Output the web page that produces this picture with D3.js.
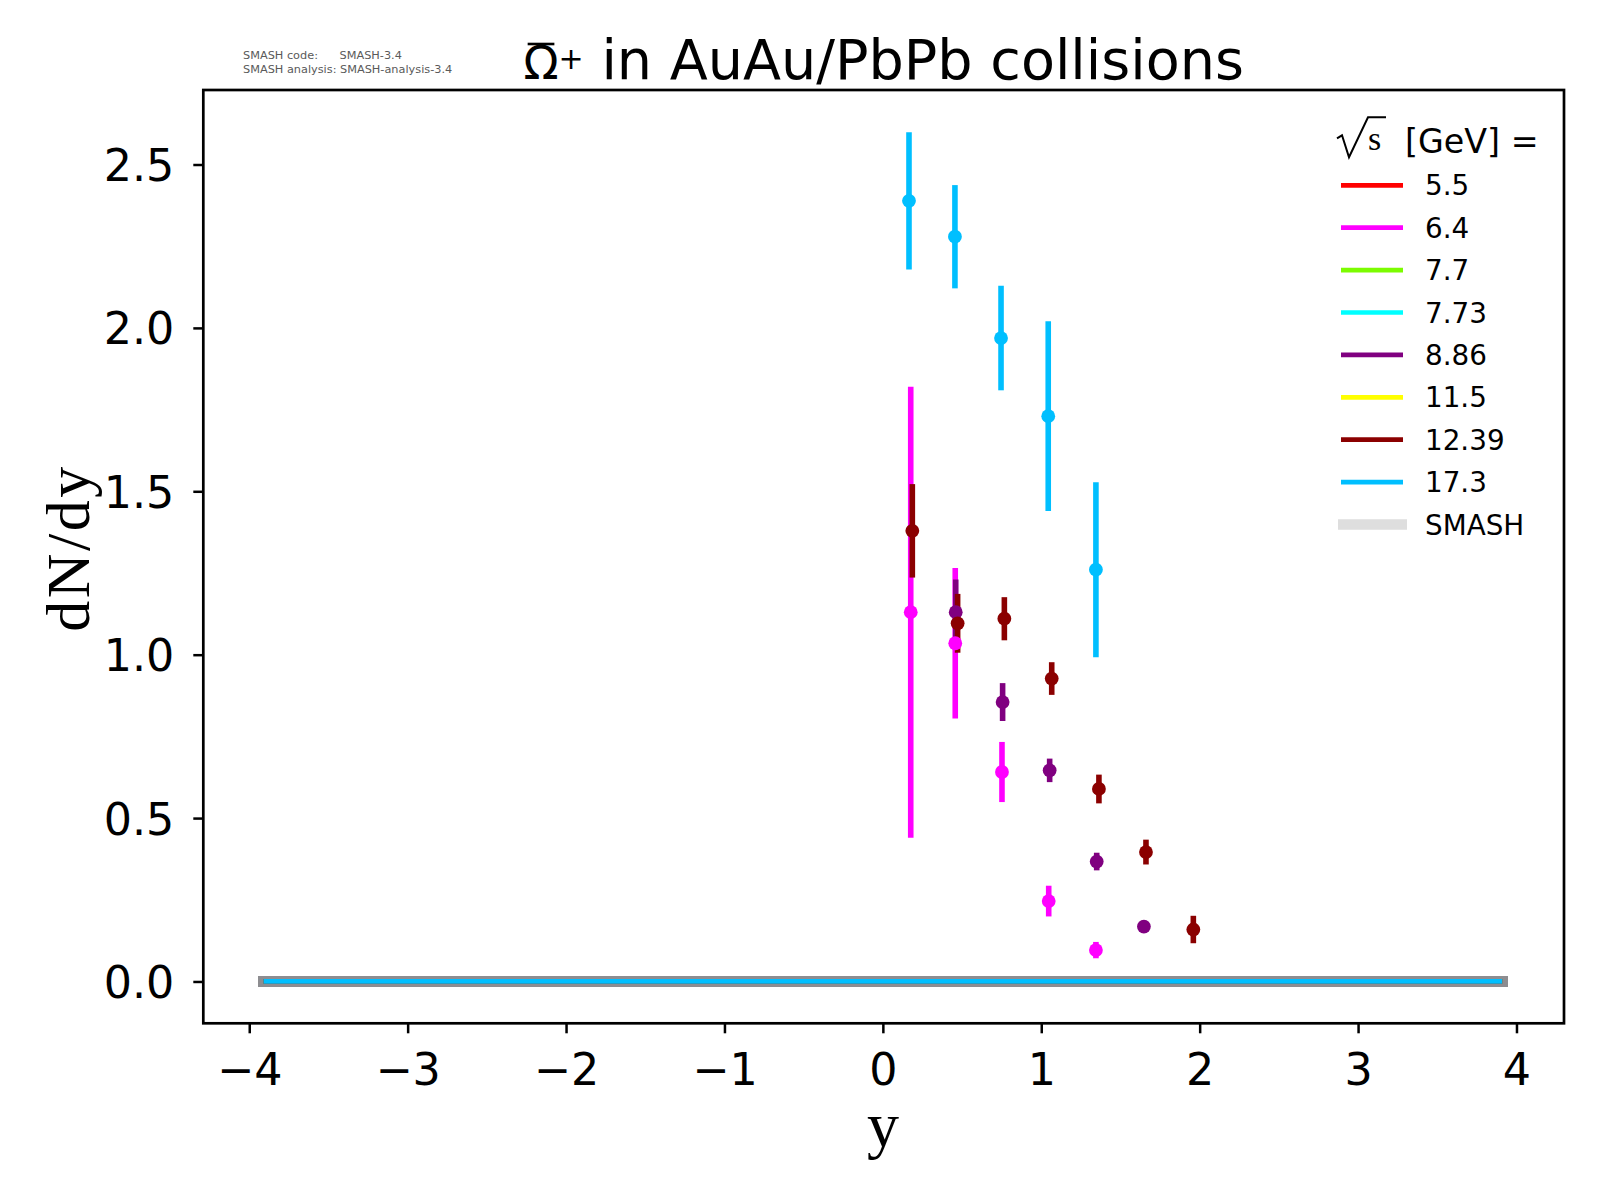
<!DOCTYPE html>
<html><head><meta charset="utf-8">
<script src="https://cdn.jsdelivr.net/npm/d3@7"></script>
<style>body{margin:0;background:#fff}svg{display:block}</style>
</head><body><svg id="c" width="1600" height="1200"></svg>
<script>
// ---------- data ----------
const legendLabels = ["5.5","6.4","7.7","7.73","8.86","11.5","12.39","17.3"];
const legendColors = ["#ff0000","#ff00ff","#7cfc00","#00ffff","#800080","#ffff00","#8b0000","#00bfff"];

// measured points (rapidity, dN/dy, error)
const rap64   = [0.176,0.457,0.752,1.047,1.345];
const val64   = [1.130,1.035,0.641,0.246,0.096];
const err64   = [0.690,0.230,0.092,0.047,0.025];
const rap886  = [0.460,0.756,1.053,1.350,1.648];
const val886  = [1.130,0.855,0.646,0.367,0.168];
const err886  = [0.100,0.058,0.036,0.027,0.012];
const rap1239 = [0.186,0.472,0.767,1.066,1.364,1.661,1.960];
const val1239 = [1.379,1.096,1.110,0.927,0.589,0.396,0.159];
const err1239 = [0.143,0.090,0.066,0.050,0.044,0.038,0.042];
const rap173  = [0.165,0.455,0.746,1.044,1.345];
const val173  = [2.389,2.279,1.969,1.730,1.260];
const err173  = [0.210,0.158,0.160,0.290,0.268];

// SMASH curves (all ~0)
const smashRap = [-3.91,-3,-2,-1,0,1,2,3,3.91];
const smashVal = [0,0,0,0,0,0,0,0,0];

const xTicks = [-4,-3,-2,-1,0,1,2,3,4];
const yTicks = [0.0,0.5,1.0,1.5,2.0,2.5];

const seriesData = [
  {label:"6.4",   rap:rap64,   val:val64,   err:err64},
  {label:"8.86",  rap:rap886,  val:val886,  err:err886},
  {label:"12.39", rap:rap1239, val:val1239, err:err1239},
  {label:"17.3",  rap:rap173,  val:val173,  err:err173}
];
const colorOf = l => legendColors[legendLabels.indexOf(l)];

// ---------- layout ----------
const L = 203.3, R = 1564, T = 90, B = 1023.3;
const x = d3.scaleLinear().domain([-4.29, 4.30]).range([L, R]);
const y = d3.scaleLinear().domain([-0.128, 2.728]).range([B, T]);

const svg = d3.select("#c");
svg.append("rect").attr("width",1600).attr("height",1200).attr("fill","#fff");

const sans = "'DejaVu Sans', sans-serif";
const serif = "'Liberation Serif', 'Times New Roman', serif";

// SMASH bands: grey underlay then coloured lines
const line = d3.line().x((d,i)=>x(smashRap[i])).y(d=>y(d));
legendLabels.forEach(l=>{
  svg.append("path").attr("d", line(smashVal)).attr("fill","none")
    .attr("stroke","#8d8d91").attr("stroke-width",10.7).attr("stroke-linecap","square");
});
legendLabels.forEach(l=>{
  svg.append("path").attr("d", line(smashVal)).attr("fill","none")
    .attr("stroke",colorOf(l)).attr("stroke-width",4.7);
});

// error bars first, then markers
const bars = svg.append("g"), marks = svg.append("g");
seriesData.forEach(s=>{
  const c = colorOf(s.label);
  s.rap.forEach((r,i)=>{
    bars.append("line").attr("x1",x(r)).attr("x2",x(r))
      .attr("y1",y(s.val[i]-s.err[i])).attr("y2",y(s.val[i]+s.err[i]))
      .attr("stroke",c).attr("stroke-width",5.6);
  });
});
seriesData.forEach(s=>{
  const c = colorOf(s.label);
  s.rap.forEach((r,i)=>{
    marks.append("circle").attr("cx",x(r)).attr("cy",y(s.val[i])).attr("r",6.9).attr("fill",c);
  });
});

// axes
const xAxis = svg.append("g").attr("transform",`translate(0,${B})`)
  .call(d3.axisBottom(x).tickValues(xTicks).tickSize(10).tickFormat(d3.format("d")));
xAxis.select(".domain").remove();
xAxis.selectAll(".tick line").attr("stroke","#000").attr("stroke-width",2.5);
xAxis.selectAll(".tick text").attr("y",61.7).attr("dy",0).attr("fill","#000")
  .style("font-family",sans).style("font-size","44.4px");

const yAxis = svg.append("g").attr("transform",`translate(${L},0)`)
  .call(d3.axisLeft(y).tickValues(yTicks).tickSize(10).tickFormat(d3.format(".1f")));
yAxis.select(".domain").remove();
yAxis.selectAll(".tick line").attr("stroke","#000").attr("stroke-width",2.5);
yAxis.selectAll(".tick text").attr("x",-29).attr("dy","0.36em").attr("fill","#000")
  .style("font-family",sans).style("font-size","44.4px");

svg.append("rect").attr("x",L).attr("y",T).attr("width",R-L).attr("height",B-T)
  .attr("fill","none").attr("stroke","#000").attr("stroke-width",2.7);

// axis labels
svg.append("text").attr("transform","translate(89,548) rotate(-90)")
  .attr("text-anchor","middle").style("letter-spacing","2.5px")
  .style("font-family",serif).style("font-size","62px").text("dN/dy");
svg.append("text").attr("x",883).attr("y",1146)
  .attr("text-anchor","middle").style("font-family",serif).style("font-size","64px").text("y");

// title
const title = svg.append("text").attr("x",(L+R)/2).attr("y",79).attr("text-anchor","middle")
  .style("font-family",sans).style("font-size","55.6px");
title.append("tspan").style("font-size","46px").text("Ω");
title.append("tspan").style("font-size","30px").attr("dy",-10).text("+");
title.append("tspan").attr("dy",10).text(" in AuAu/PbPb collisions");
const ext = title.node().getExtentOfChar(0);
svg.append("line").attr("x1",ext.x+ext.width*0.12).attr("x2",ext.x+ext.width*0.88)
  .attr("y1",44).attr("y2",44).attr("stroke","#000").attr("stroke-width",2.6);

// SMASH version info
const info = svg.append("g").style("font-family",sans).style("font-size","11.3px").attr("fill","#5a5a5a");
info.append("text").attr("x",243).attr("y",59).attr("xml:space","preserve").style("white-space","pre")
  .text("SMASH code:      SMASH-3.4");
info.append("text").attr("x",243).attr("y",73).attr("xml:space","preserve").style("white-space","pre")
  .text("SMASH analysis: SMASH-analysis-3.4");

// legend
const lx = 1341, ly0 = 185.3, dy = 42.4;
const lg = svg.append("g");
// header: sqrt(s) [GeV] =
lg.append("path").attr("d",`M${lx-4},${ly0-47} l5,-3 l7,22 l19,-40 h18`)
  .attr("fill","none").attr("stroke","#000").attr("stroke-width",2);
lg.append("text").attr("x",lx+27).attr("y",ly0-35).style("font-family",serif).style("font-size","34px").text("s");
lg.append("text").attr("x",lx+64).attr("y",ly0-32).style("font-family",sans).style("font-size","33.3px").text("[GeV] =");
legendLabels.forEach((l,i)=>{
  const cy = ly0 + i*dy;
  lg.append("line").attr("x1",lx).attr("x2",lx+62).attr("y1",cy).attr("y2",cy)
    .attr("stroke",legendColors[i]).attr("stroke-width",4.7);
  lg.append("text").attr("x",lx+84).attr("y",cy+10).style("font-family",sans).style("font-size","27.8px").text(l);
});
const sy = ly0 + legendLabels.length*dy;
lg.append("line").attr("x1",lx-3).attr("x2",lx+66).attr("y1",sy).attr("y2",sy)
  .attr("stroke","#dedede").attr("stroke-width",10.7);
lg.append("text").attr("x",lx+84).attr("y",sy+10).style("font-family",sans).style("font-size","27.8px").text("SMASH");
</script></body></html>
